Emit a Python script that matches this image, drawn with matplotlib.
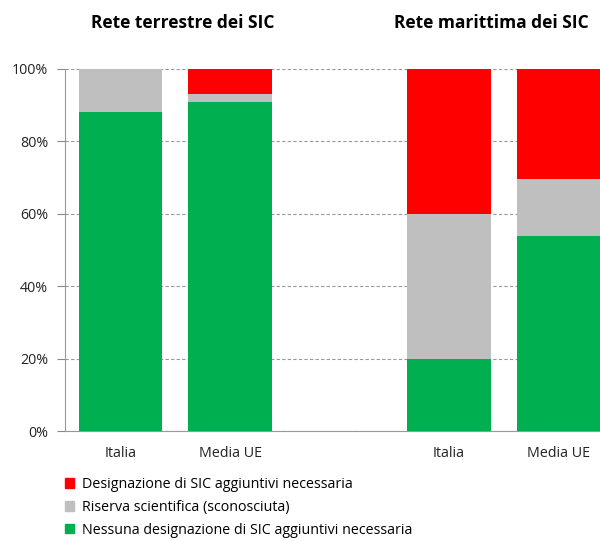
import matplotlib
matplotlib.use("Agg")
import matplotlib.pyplot as plt
from matplotlib.patches import Patch
from matplotlib.ticker import PercentFormatter

plt.rcParams['font.family'] = ['Open Sans', 'DejaVu Sans']

categories = ["Italia", "Media UE", "Italia", "Media UE"]
positions = [0, 1, 3, 4]
nessuna = [88, 91, 20, 54]
riserva = [12, 2, 40, 15.5]
designazione = [0, 7, 40, 30.5]
group_titles = ["Rete terrestre dei SIC", "Rete marittima dei SIC"]
labels = ["Designazione di SIC aggiuntivi necessaria",
          "Riserva scientifica (sconosciuta)",
          "Nessuna designazione di SIC aggiuntivi necessaria"]
colors = {"red": "#FF0000", "gray": "#BFBFBF", "green": "#00B050"}

fig = plt.figure(figsize=(6.0, 5.41), dpi=100)
ax = fig.add_axes([0.108, 0.2033, 0.892, 0.6692])

w = 0.76
ax.bar(positions, nessuna, w, color=colors["green"], zorder=3)
ax.bar(positions, riserva, w, bottom=nessuna, color=colors["gray"], zorder=3)
bott = [a + b for a, b in zip(nessuna, riserva)]
ax.bar(positions, designazione, w, bottom=bott, color=colors["red"], zorder=3)

ax.set_xlim(-0.51, 4.38)
ax.set_ylim(0, 100)
ax.set_yticks(range(0, 101, 20))
ax.yaxis.set_major_formatter(PercentFormatter(decimals=0))
ax.set_xticks(positions)
ax.set_xticklabels(categories)
ax.tick_params(axis='x', length=0, pad=11, labelsize=10.3, colors='#222222')
ax.tick_params(axis='y', length=6, direction='out', color='#888888', labelsize=10.3,
               colors='#222222', pad=6)
ax.yaxis.grid(True, linestyle=(0, (3, 2)), color='#999999', linewidth=0.8, zorder=0)
for s in ['top', 'right']:
    ax.spines[s].set_visible(False)
for s in ['left', 'bottom']:
    ax.spines[s].set_color('#999999')

fig.text(183 / 600, 1 - 23 / 541, group_titles[0], ha='center', va='center',
         fontsize=12.5, fontweight='bold')
fig.text(491 / 600, 1 - 23 / 541, group_titles[1], ha='center', va='center',
         fontsize=12.5, fontweight='bold')

handles = [Patch(color=colors["red"]), Patch(color=colors["gray"]), Patch(color=colors["green"])]
fig.legend(handles, labels, loc='upper left', bbox_to_anchor=(0.108, 0.1185),
           frameon=False, fontsize=10.3, handlelength=0.65, handleheight=0.65,
           handletextpad=0.55, labelspacing=0.55, borderaxespad=0, borderpad=0)

fig.savefig("out.png", dpi=100)
